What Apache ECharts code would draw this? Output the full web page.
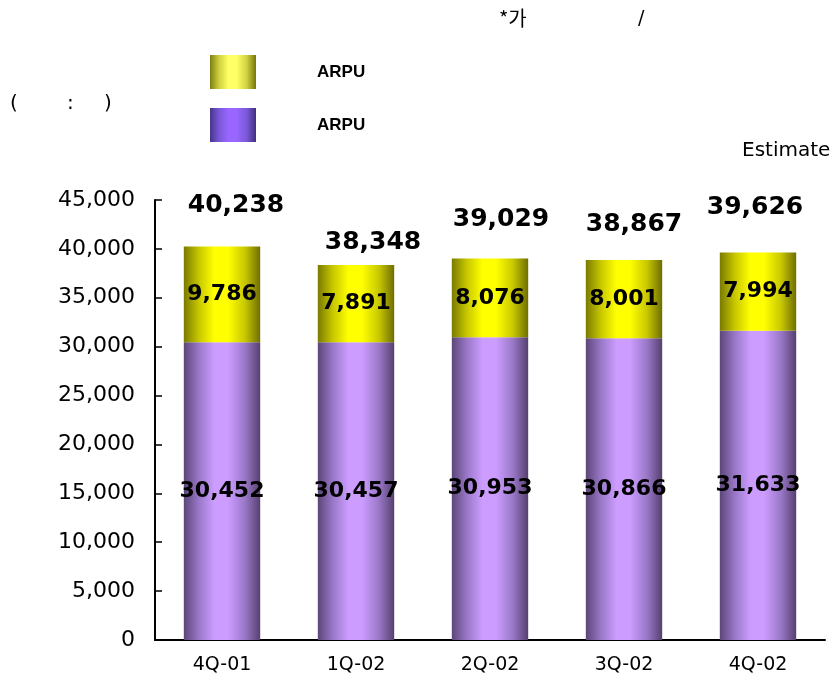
<!DOCTYPE html>
<html>
<head>
<meta charset="utf-8">
<script src="https://cdn.jsdelivr.net/npm/echarts@6/dist/echarts.min.js"></script>
<style>
  html, body { margin: 0; padding: 0; background: #fff; }
  #main { width: 840px; height: 679px; }
</style>
</head>
<body>
<div id="main"></div>
<script>
// data
const quarters = ['4Q-01', '1Q-02', '2Q-02', '3Q-02', '4Q-02'];
const baseArpu = [30452, 30457, 30953, 30866, 31633];   // purple part
const extraArpu = [9786, 7891, 8076, 8001, 7994];       // yellow part
const totals = [40238, 38348, 39029, 38867, 39626];
const yTicks = [0, 5000, 10000, 15000, 20000, 25000, 30000, 35000, 40000, 45000];

// where the total labels sit relative to the bar top (px), picture is uneven
const totalShiftX = [14, 17, 11, 10, -3];
const totalLift = [24, 5, 21, 18, 28];

const chart = echarts.init(document.getElementById('main'));

function fmt(v) {
    return v.toLocaleString('en-US');
}

// cylinder-like horizontal shading
function shade(dark, mid, light, dark2) {
    return new echarts.graphic.LinearGradient(0, 0, 1, 0, [
        { offset: 0, color: dark },
        { offset: 0.2, color: mid },
        { offset: 0.4, color: light },
        { offset: 0.58, color: light },
        { offset: 0.8, color: mid },
        { offset: 1, color: dark2 }
    ]);
}

const purple = shade('#5c4679', '#9a78c8', '#cc9cff', '#56406f');
const yellow = shade('#7a7a00', '#c8c800', '#ffff00', '#6e6e00');
const legendPurple = shade('#46368a', '#7a58d8', '#9966ff', '#40307c');
const legendYellow = shade('#7e7e10', '#d0d040', '#ffff66', '#76760c');

const font = '"DejaVu Sans", Verdana, sans-serif';

let option = {
    animation: false,
    grid: {
        left: 155,
        right: 15,
        top: 200,
        bottom: 39,
        containLabel: false
    },
    legend: {
        orient: 'vertical',
        left: 210,
        top: 55,
        padding: 0,
        itemWidth: 46,
        itemHeight: 34,
        itemGap: 19,
        icon: 'rect',
        data: [
            { name: 'ARPU ', itemStyle: { color: legendYellow } },
            { name: 'ARPU', itemStyle: { color: legendPurple } }
        ],
        textStyle: {
            fontFamily: '"Liberation Sans Narrow", "Liberation Sans", Arial, sans-serif',
            fontWeight: 'bold',
            fontSize: 17,
            color: '#000',
            padding: [10, 0, 0, 56]
        }
    },
    xAxis: {
        type: 'category',
        data: quarters,
        axisLine: { lineStyle: { color: '#000', width: 2 } },
        axisTick: { inside: true, length: 7, lineStyle: { color: '#000', width: 1.5 } },
        axisLabel: { color: '#000', fontSize: 19, fontFamily: font, margin: 16 }
    },
    yAxis: {
        type: 'value',
        min: 0,
        max: 45000,
        interval: 5000,
        splitLine: { show: false },
        axisLine: { show: true, lineStyle: { color: '#000', width: 2 } },
        axisTick: { show: true, inside: true, length: 7, lineStyle: { color: '#000', width: 1.5 } },
        axisLabel: {
            color: '#000',
            fontSize: 22,
            fontFamily: font,
            margin: 20,
            formatter: v => yTicks.includes(v) ? fmt(v) : ''
        }
    },
    series: [
        {
            name: 'ARPU',
            type: 'bar',
            stack: 'arpu',
            barWidth: '57%',
            data: baseArpu,
            itemStyle: { color: purple },
            label: {
                show: true,
                position: 'inside',
                formatter: p => fmt(p.value),
                color: '#000',
                fontFamily: font,
                fontWeight: 'bold',
                fontSize: 22
            }
        },
        {
            name: 'ARPU ',
            type: 'bar',
            stack: 'arpu',
            data: extraArpu,
            itemStyle: { color: yellow },
            label: {
                show: true,
                position: 'inside',
                formatter: p => fmt(p.value),
                color: '#000',
                fontFamily: font,
                fontWeight: 'bold',
                fontSize: 22
            }
        },
        {
            // totals on top
            name: 'total',
            type: 'scatter',
            symbolSize: 0,
            itemStyle: { opacity: 1 },
            data: totals.map((v, i) => ({
                value: [quarters[i], baseArpu[i] + extraArpu[i]],
                label: { offset: [totalShiftX[i], -totalLift[i]] }
            })),
            label: {
                show: true,
                position: 'top',
                formatter: p => fmt(totals[p.dataIndex]),
                color: '#000',
                fontFamily: font,
                fontWeight: 'bold',
                fontSize: 25
            },
            silent: true
        }
    ],
    graphic: [
        { type: 'text', left: 499, top: 8, style: { text: '*가', fontSize: 20, fontFamily: '"Noto Sans CJK KR", sans-serif', fill: '#000' } },
        { type: 'text', left: 638, top: 10, style: { text: '/', fontSize: 19, fontFamily: font, fill: '#000' } },
        { type: 'text', left: 10, top: 94, style: { text: '(', fontSize: 20, fontFamily: font, fill: '#000' } },
        { type: 'text', left: 67, top: 94, style: { text: ':', fontSize: 20, fontFamily: font, fill: '#000' } },
        { type: 'text', left: 104, top: 94, style: { text: ')', fontSize: 20, fontFamily: font, fill: '#000' } },
        { type: 'text', left: 742, top: 141, style: { text: 'Estimate', fontSize: 20, fontFamily: font, fill: '#000' } }
    ]
};

chart.setOption(option);
</script>
</body>
</html>
